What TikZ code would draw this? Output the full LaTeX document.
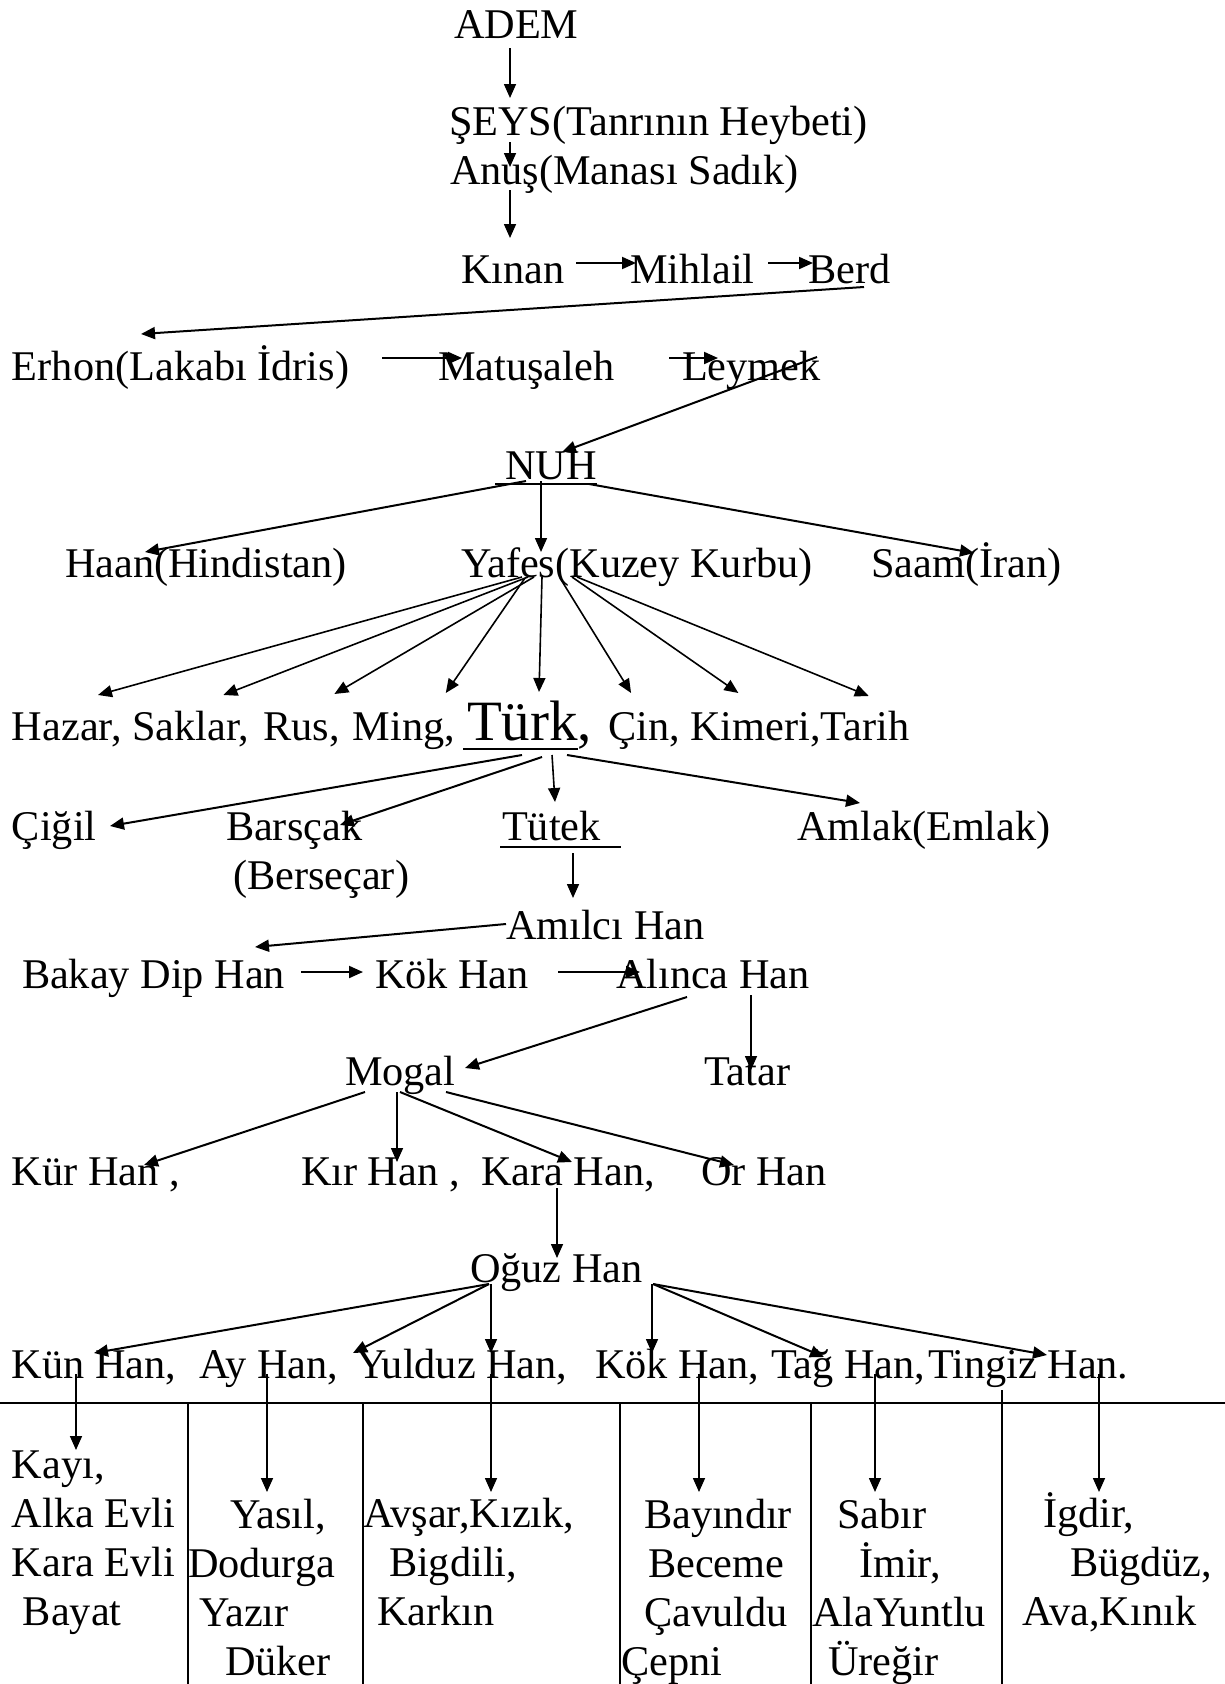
\documentclass[tikz,border=0pt]{standalone}
\usepackage{fontspec}
\setmainfont{Liberation Serif}
\usetikzlibrary{arrows.meta}

\begin{document}
\begin{tikzpicture}[x=1pt,y=-1pt,
  isim/.style={inner sep=0pt,outer sep=0pt,anchor=base west,font=\fontsize{42.3}{49}\selectfont},
  grup/.style={isim,align=left},
  ok/.style={-{Triangle[length=14pt,width=12pt]},line width=2pt},
  ince/.style={ok,line width=1.6pt},
  cizgi/.style={line width=2.8pt}]
\useasboundingbox (0,0) rectangle (1225,1684);
% ust kisim
\node[isim] (adem) at (454,38) {ADEM};
\node[isim] (seys) at (449,135) {ŞEYS(Tanrının Heybeti)};
\node[isim] (anus) at (450,184) {Anuş(Manası Sadık)};
\node[isim] (kinan) at (461,283) {Kınan};
\node[isim] (mihlail) at (630,283) {Mihlail};
\node[isim] (berd) at (808,283) {Berd};
\node[isim] (erhon) at (12,380) {Erhon(Lakabı İdris)};
\node[isim] (matusaleh) at (438,380) {Matuşaleh};
\node[isim] (leymek) at (682,380) {Leymek};
\node[isim] (nuh) at (505,479) {NUH};
\node[isim] (haan) at (65,577) {Haan(Hindistan)};
\node[isim] (yafes) at (461,577) {Yafes(Kuzey Kurbu)};
\node[isim] (saam) at (871,577) {Saam(İran)};
\draw[ince] ([shift={(56,10)}]adem.base west) -- ([shift={(61,-37)}]seys.base west);
\draw[ince] ([shift={(61,7)}]seys.base west) -- ([shift={(60,-17)}]anus.base west);
\draw[ince] ([shift={(60,6)}]anus.base west) -- ([shift={(49,-45)}]kinan.base west);
\draw[ok] ([shift={(115,-20)}]kinan.base west) -- ([shift={(6,-20)}]mihlail.base west);
\draw[ok] ([shift={(138,-20)}]mihlail.base west) -- ([shift={(5,-20)}]berd.base west);
\draw[ok] ([shift={(56,4)}]berd.base west) -- ([shift={(129,-46)}]erhon.base west);
\draw[ok] ([shift={(370,-22)}]erhon.base west) -- ([shift={(24,-22)}]matusaleh.base west);
\draw[ok] ([shift={(231,-22)}]matusaleh.base west) -- ([shift={(36,-22)}]leymek.base west);
\draw[ok] ([shift={(135,-23)}]leymek.base west) -- ([shift={(57,-27)}]nuh.base west);
\draw[cizgi] ([shift={(-10,5)}]nuh.base west) -- ([shift={(0,5)}]nuh.base east);
\draw[ok] ([shift={(21,2)}]nuh.base west) -- ([shift={(80,-25)}]haan.base west);
\draw[ince] ([shift={(36,2)}]nuh.base west) -- ([shift={(80,-25)}]yafes.base west);
\draw[ok] ([shift={(84,5)}]nuh.base west) -- ([shift={(103,-24)}]saam.base west);
% Yafes'in ogullari
\node[isim] (hazar) at (12,740) {Hazar,};
\node[isim] (saklar) at ([xshift=10.6]hazar.base east) {Saklar,};
\node[isim] (rus) at ([xshift=14]saklar.base east) {Rus,};
\node[isim] (ming) at ([xshift=13]rus.base east) {Ming,};
\node[isim,font=\fontsize{57}{60}\selectfont] (turk) at ([xshift=12]ming.base east) {Türk,};
\node[isim] (cin) at ([xshift=16]turk.base east) {Çin,};
\node[isim] (kimeri) at ([xshift=10.6]cin.base east) {Kimeri,};
\node[isim] (tarih) at (kimeri.base east) {Tarih};
\draw[cizgi] ([shift={(-4,9)}]turk.base west) -- ([shift={(111,9)}]turk.base west);
\draw[ince] ([shift={(61,0)}]yafes.base west) -- ([shift={(86,-45)}]hazar.base west);
\draw[ince] ([shift={(67,0)}]yafes.base west) -- ([shift={(91,-45)}]saklar.base west);
\draw[ince] ([shift={(73,0)}]yafes.base west) -- ([shift={(71,-46)}]rus.base west);
\draw[ince] ([shift={(64,1)}]yafes.base west) -- ([shift={(93,-47)}]ming.base west);
\draw[ince] ([shift={(81,0)}]yafes.base west) -- ([shift={(72,-48)}]turk.base west);
\draw[ince] ([shift={(99,1)}]yafes.base west) -- ([shift={(23,-47)}]cin.base west);
\draw[ince] ([shift={(111,0)}]yafes.base west) -- ([shift={(48,-47)}]kimeri.base west);
\draw[ince] ([shift={(116,0)}]yafes.base west) -- ([shift={(48,-44)}]tarih.base west);
% Turk'un ogullari
\node[isim] (cigil) at (12,840) {Çiğil};
\node[isim] (barscak) at (226,840) {Barsçak};
\node[isim] (bersecar) at (233,889) {(Berseçar)};
\node[isim] (tutek) at (502,840) {Tütek};
\node[isim] (amlak) at (797,840) {Amlak(Emlak)};
\draw[cizgi] ([shift={(-2,7)}]tutek.base west) -- ([shift={(119,7)}]tutek.base west);
\draw[ok] ([shift={(55,15)}]turk.base west) -- ([shift={(98,-14)}]cigil.base west);
\draw[ok] ([shift={(75,17)}]turk.base west) -- ([shift={(114,-15)}]barscak.base west);
\draw[ince] ([shift={(85,15)}]turk.base west) -- ([shift={(53,-38)}]tutek.base west);
\draw[ok] ([shift={(100,15)}]turk.base west) -- ([shift={(63,-37)}]amlak.base west);
% hanlar
\node[isim] (amilci) at (506,939) {Amılcı Han};
\node[isim] (bakay) at (22,988) {Bakay Dip Han};
\node[isim] (kok) at (375,988) {Kök Han};
\node[isim] (alinca) at (616,988) {Alınca Han};
\node[isim] (mogal) at (345,1085) {Mogal};
\node[isim] (tatar) at (704,1085) {Tatar};
\draw[ince] ([shift={(71,13)}]tutek.base west) -- ([shift={(67,-41)}]amilci.base west);
\draw[ok] ([shift={(0,-15)}]amilci.base west) -- ([shift={(233,-41)}]bakay.base west);
\draw[ok] ([shift={(279,-16)}]bakay.base west) -- ([shift={(-12,-16)}]kok.base west);
\draw[ok] ([shift={(183,-16)}]kok.base west) -- ([shift={(24,-16)}]alinca.base west);
\draw[ok] ([shift={(71,9)}]alinca.base west) -- ([shift={(120,-17)}]mogal.base west);
\draw[ince] ([shift={(135,7)}]alinca.base west) -- ([shift={(47,-15)}]tatar.base west);
\node[isim] (kur) at (12,1185) {Kür Han ,};
\node[isim] (kir) at (301,1185) {Kır Han ,};
\node[isim] (kara) at (481,1185) {Kara Han,};
\node[isim] (orhan) at (701,1185) {Or Han};
\draw[ok] ([shift={(20,7)}]mogal.base west) -- ([shift={(132,-20)}]kur.base west);
\draw[ince] ([shift={(52,7)}]mogal.base west) -- ([shift={(96,-23)}]kir.base west);
\draw[ok] ([shift={(55,7)}]mogal.base west) -- ([shift={(91,-23)}]kara.base west);
\draw[ok] ([shift={(101,7)}]mogal.base west) -- ([shift={(33,-20)}]orhan.base west);
\node[isim] (oguz) at (470,1282) {Oğuz Han};
\draw[ince] ([shift={(76,3)}]kara.base west) -- ([shift={(87,-24)}]oguz.base west);
% Oguz Han'in ogullari
\node[isim] (kun) at (12,1378) {Kün Han,};
\node[isim] (ay) at (199,1378) {Ay Han,};
\node[isim] (yulduz) at (356,1378) {Yulduz Han,};
\node[isim] (kok2) at (595,1378) {Kök Han,};
\node[isim] (tag) at (771,1378) {Tağ Han,};
\node[isim] (tingiz) at (928,1378) {Tingiz Han.};
\draw[ok] ([shift={(19,2)}]oguz.base west) -- ([shift={(82,-25)}]kun.base west);
\draw[ok] ([shift={(19,2)}]oguz.base west) -- ([shift={(154,-25)}]ay.base west);
\draw[ince] ([shift={(21,2)}]oguz.base west) -- ([shift={(135,-25)}]yulduz.base west);
\draw[ince] ([shift={(182,2)}]oguz.base west) -- ([shift={(57,-25)}]kok2.base west);
\draw[ok] ([shift={(183,2)}]oguz.base west) -- ([shift={(53,-21)}]tag.base west);
\draw[ok] ([shift={(183,2)}]oguz.base west) -- ([shift={(119,-23)}]tingiz.base west);
% boylar tablosu
\draw[cizgi] (0,1403) -- (1225,1403);
\draw[line width=1.6pt] (188,1403) -- (188,1684);
\draw[line width=1.6pt] (363,1403) -- (363,1684);
\draw[line width=1.6pt] (620,1403) -- (620,1684);
\draw[line width=1.6pt] (811,1403) -- (811,1684);
\draw[line width=1.6pt] (1002,1390) -- (1002,1684);
\node[grup] (g1) at (12,1625) {Kayı,\\Alka Evli\\Kara Evli\\\hspace*{11pt}Bayat};
\node[grup] (g2) at (188,1675) {\hspace*{42pt}Yasıl,\\Dodurga\\\hspace*{11pt}Yazır\\\hspace*{37pt}Düker};
\node[grup] (g3) at (363,1625) {Avşar,Kızık,\\\hspace*{26pt}Bigdili,\\\hspace*{14pt}Karkın};
\node[grup] (g4) at (621,1675) {\hspace*{23pt}Bayındır\\\hspace*{27pt}Beceme\\\hspace*{23pt}Çavuldu\\Çepni};
\node[grup] (g5) at (812,1675) {\hspace*{25pt}Sabır\\\hspace*{47pt}İmir,\\AlaYuntlu\\\hspace*{16pt}Üreğir};
\node[grup] (g6) at (1022,1625) {\hspace*{21pt}İgdir,\\\hspace*{48pt}Bügdüz,\\Ava,Kınık};
\draw[ince] ([shift={(64,-4)}]kun.base west) -- ([shift={(64,-175)}]g1.base west);
\draw[ince] ([shift={(68,-4)}]ay.base west) -- ([shift={(79,-183)}]g2.base west);
\draw[ince] ([shift={(135,-4)}]yulduz.base west) -- ([shift={(128,-133)}]g3.base west);
\draw[ince] ([shift={(104,-4)}]kok2.base west) -- ([shift={(78,-183)}]g4.base west);
\draw[ince] ([shift={(104,-4)}]tag.base west) -- ([shift={(63,-183)}]g5.base west);
\draw[ince] ([shift={(171,-4)}]tingiz.base west) -- ([shift={(77,-133)}]g6.base west);
\end{tikzpicture}
\end{document}
